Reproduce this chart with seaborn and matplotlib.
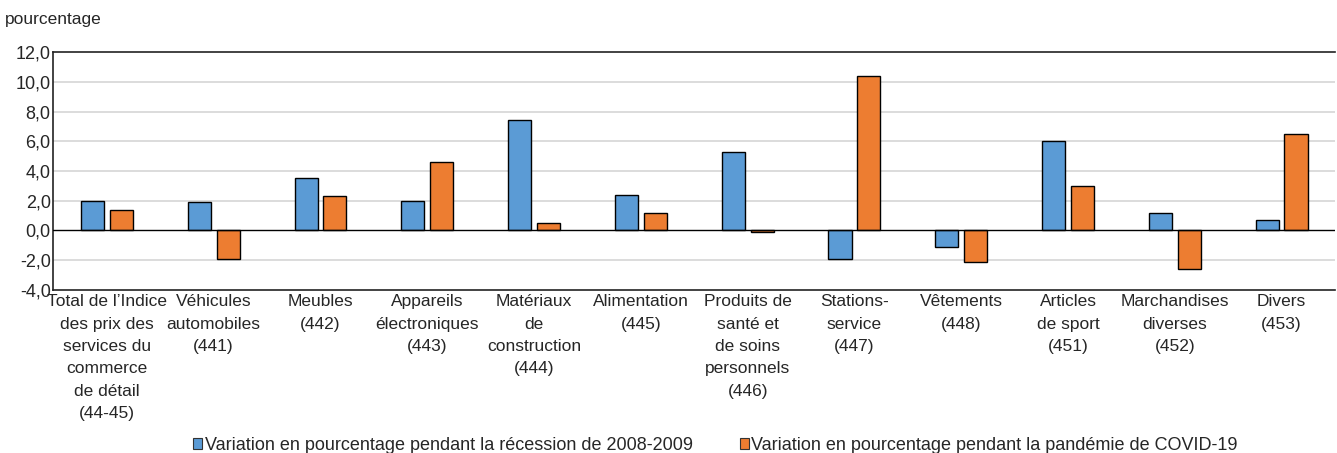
import numpy as np
import pandas as pd
import matplotlib
matplotlib.use('Agg')
import matplotlib.pyplot as plt
import matplotlib.ticker as mticker
from matplotlib.patches import Patch
import seaborn as sns

#%% data
categories = [
    "Total de l\u2019Indice\ndes prix des\nservices du\ncommerce\nde détail\n(44-45)",
    "Véhicules\nautomobiles\n(441)",
    "Meubles\n(442)",
    "Appareils\nélectroniques\n(443)",
    "Matériaux\nde\nconstruction\n(444)",
    "Alimentation\n(445)",
    "Produits de\nsanté et\nde soins\npersonnels\n(446)",
    "Stations-\nservice\n(447)",
    "Vêtements\n(448)",
    "Articles\nde sport\n(451)",
    "Marchandises\ndiverses\n(452)",
    "Divers\n(453)",
]
recession = [2.0, 1.9, 3.5, 2.0, 7.4, 2.4, 5.3, -1.9, -1.1, 6.0, 1.2, 0.7]
pandemie = [1.4, -1.9, 2.3, 4.6, 0.5, 1.2, -0.1, 10.4, -2.1, 3.0, -2.6, 6.5]
series = ["Variation en pourcentage pendant la récession de 2008-2009",
          "Variation en pourcentage pendant la pandémie de COVID-19"]
yticks = [-4, -2, 0, 2, 4, 6, 8, 10, 12]

df = pd.DataFrame({
    'cat': categories * 2,
    'val': recession + pandemie,
    'serie': [series[0]] * len(categories) + [series[1]] * len(categories),
})

#%% plot
sns.set_style('white')
plt.rcParams['font.family'] = ['Liberation Sans', 'DejaVu Sans']
colors = ['#5B9BD5', '#ED7D31']

fig = plt.figure(figsize=(13.37, 4.53), dpi=100)
ax = fig.add_axes([0.04, 0.36, 0.9585, 0.525])

ax.set_axisbelow(True)
for t in yticks:
    if t not in (0, -4, 12):
        ax.axhline(t, color='#d9d9d9', lw=1.3, zorder=0)

sns.barplot(data=df, x='cat', y='val', hue='serie', palette=colors, saturation=1,
            edgecolor='black', linewidth=1.0, width=0.54, gap=0.2,
            legend=False, ax=ax, zorder=2)
ax.axhline(0, color='black', lw=1.0, zorder=3)

ax.set_ylim(-4, 12)
ax.set_xlim(-0.5, len(categories) - 0.5)
ax.set_yticks(yticks)
ax.yaxis.set_major_formatter(mticker.FuncFormatter(lambda v, p: f"{v:.1f}".replace('.', ',')))
ax.tick_params(axis='y', labelsize=13, length=0, pad=2)
ax.tick_params(axis='x', labelsize=12.5, length=0, pad=3)
ax.set_xlabel('')
ax.set_ylabel('')
for lab in ax.get_xticklabels():
    lab.set_linespacing(1.62)

for s in ['top', 'bottom', 'left']:
    ax.spines[s].set_color('#222222')
    ax.spines[s].set_linewidth(1.2)
ax.spines['right'].set_visible(False)

fig.text(0.004, 0.94, 'pourcentage', fontsize=12.5, ha='left', va='bottom')

handles = [Patch(facecolor=c, edgecolor='#333333', linewidth=0.8) for c in colors]
fig.legend(handles, series, loc='lower center', bbox_to_anchor=(0.535, -0.038),
           ncol=2, frameon=False, fontsize=13, handlelength=0.5, handleheight=0.55,
           handletextpad=0.15, columnspacing=2.6)

plt.savefig('out.png', dpi=100)
